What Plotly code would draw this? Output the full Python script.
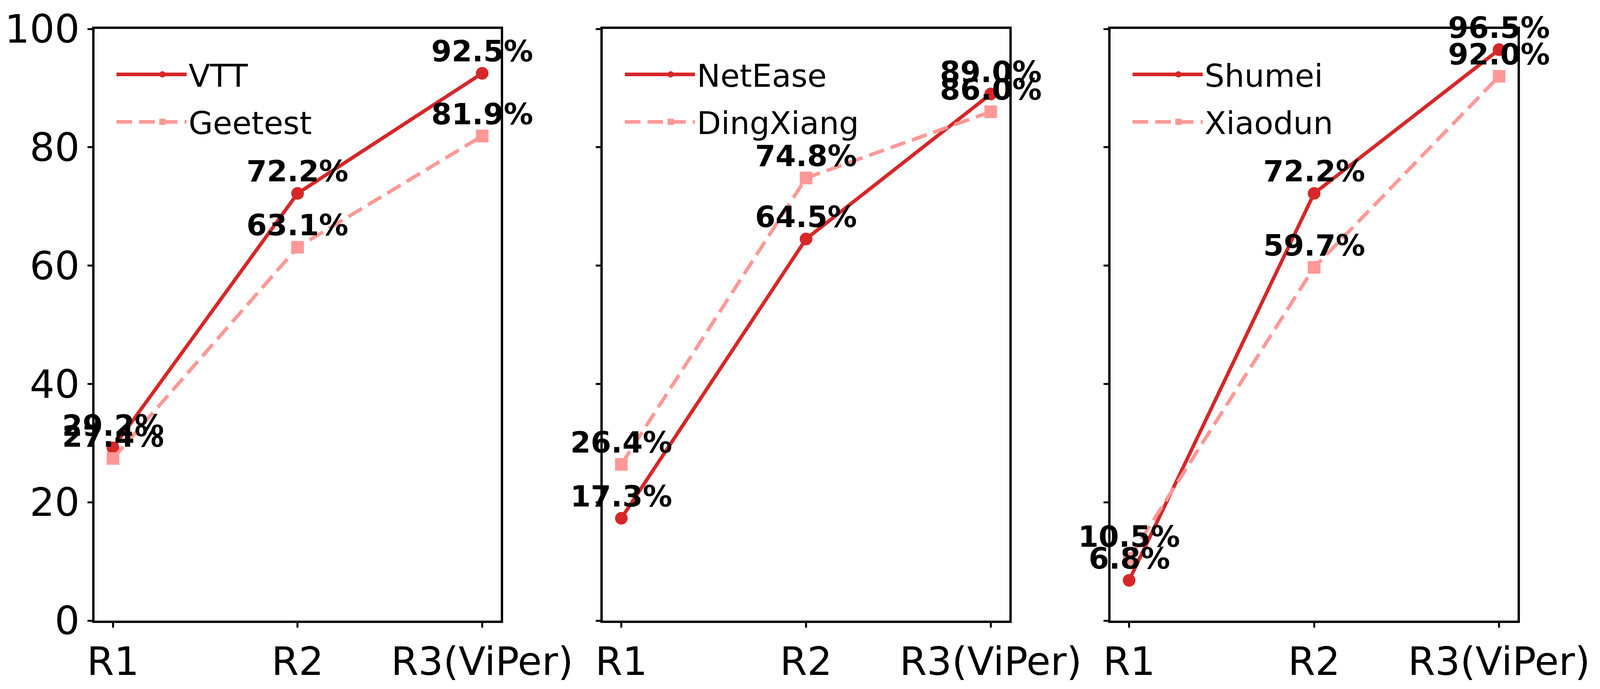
import plotly.graph_objects as go
from plotly.subplots import make_subplots

ROUNDS = ["R1", "R2", "R3(ViPer)"]

# one pair of services per panel
VTT = [29.2, 72.2, 92.5]
GEETEST = [27.4, 63.1, 81.9]
NETEASE = [17.3, 64.5, 89.0]
DINGXIANG = [26.4, 74.8, 86.0]
SHUMEI = [6.8, 72.2, 96.5]
XIAODUN = [10.5, 59.7, 92.0]

PANELS = [
    ("VTT", VTT, "Geetest", GEETEST),
    ("NetEase", NETEASE, "DingXiang", DINGXIANG),
    ("Shumei", SHUMEI, "Xiaodun", XIAODUN),
]

Y_TICKS = [0, 20, 40, 60, 80, 100]

RED = "#d62728"
PINK = "#ff9896"
FONT = "DejaVu Sans"

# sizes below are for a 5362 x 1763 page
W, H = 5362, 1763
ML, MR, MT, MB = 282, 237, 74, 170
PLOT_W = W - ML - MR
TICK_SIZE, LEGEND_SIZE, LABEL_SIZE = 115, 92, 86
MARKER_SIZE, LINE_W = 37, 10.5
ITEM_W = 235

# pixel edges of the three axes boxes
panel_px = [(282, 1664), (2012, 3395), (3740, 5125)]
domains = [[(a - ML) / PLOT_W, (b - ML) / PLOT_W] for a, b in panel_px]
domains[0][0] = 0.0
domains[-1][1] = 1.0

fig = make_subplots(rows=1, cols=3, shared_yaxes=True)

for i, (name_a, vals_a, name_b, vals_b) in enumerate(PANELS):
    col = i + 1
    legend_id = "legend" if i == 0 else "legend{}".format(col)
    fig.add_trace(go.Scatter(
        x=ROUNDS, y=vals_a, name=name_a, mode="lines+markers",
        line=dict(color=RED, width=LINE_W),
        marker=dict(symbol="circle", size=MARKER_SIZE, color=RED),
        legend=legend_id, legendgroup=name_a), row=1, col=col)
    fig.add_trace(go.Scatter(
        x=ROUNDS, y=vals_b, name=name_b, mode="lines+markers",
        line=dict(color=PINK, width=LINE_W, dash="40px,18px"),
        marker=dict(symbol="square", size=MARKER_SIZE, color=PINK),
        legend=legend_id, legendgroup=name_b), row=1, col=col)

    # value labels above each point
    for vals in (vals_a, vals_b):
        for x, v in zip(ROUNDS, vals):
            fig.add_annotation(
                x=x, y=v, xref="x{}".format("" if col == 1 else col),
                yref="y{}".format("" if col == 1 else col),
                text="{:.1f}%".format(v), showarrow=False,
                yanchor="bottom", xanchor="center", yshift=12,
                font=dict(family=FONT, size=LABEL_SIZE, color="black", weight="bold"))

    fig.update_xaxes(
        domain=domains[i], type="category", range=[-0.1, 2.1],
        showline=True, mirror=True, linecolor="black", linewidth=6,
        ticks="outside", ticklen=12, tickwidth=5, tickcolor="black",
        showgrid=False, zeroline=False,
        tickfont=dict(family=FONT, size=TICK_SIZE, color="black"),
        row=1, col=col)
    fig.update_yaxes(
        range=[0, 100], tickvals=Y_TICKS, showticklabels=(i == 0),
        showline=True, mirror=True, linecolor="black", linewidth=6,
        ticks="outside", ticklen=12, tickwidth=5, tickcolor="black",
        showgrid=False, zeroline=False,
        tickfont=dict(family=FONT, size=TICK_SIZE, color="black"),
        row=1, col=col)

legend_style = dict(
    xanchor="left", yanchor="top", y=0.962,
    bgcolor="rgba(0,0,0,0)", borderwidth=0,
    font=dict(family=FONT, size=LEGEND_SIZE, color="black"),
    itemwidth=ITEM_W, traceorder="grouped", tracegroupgap=14,
)
layout_legends = {}
for i, (a, b) in enumerate(panel_px):
    key = "legend" if i == 0 else "legend{}".format(i + 1)
    layout_legends[key] = dict(legend_style, x=(a - ML + 68) / PLOT_W)

fig.update_layout(
    width=W, height=H,
    margin=dict(l=ML, r=MR, t=MT, b=MB),
    paper_bgcolor="white", plot_bgcolor="white",
    showlegend=True,
    **layout_legends,
)

# the browser window may be narrower than W: refit the figure to it,
# scaling widths with the window and text by a milder factor
fit_js = """
var gd = document.getElementById('{plot_id}');
document.body.style.margin = '0';
document.body.style.overflow = 'hidden';
var vw = window.innerWidth, vh = window.innerHeight;
var s = vw / %(W)d, sv = vh / %(H)d;
var f = Math.min(Math.sqrt(s), sv);
var upd = {
  width: vw, height: vh,
  'margin.t': %(MT)d * sv, 'margin.b': %(MB)d * sv,
  'margin.l': %(ML)d * s + (f - s) * 225,
  'margin.r': %(MR)d * s + (f - s) * 270
};
['legend', 'legend2', 'legend3'].forEach(function (k) {
  upd[k + '.font.size'] = %(LEG)d * f;
  upd[k + '.itemwidth'] = Math.max(30, %(ITEM)d * s);
  upd[k + '.tracegroupgap'] = 14 * sv;
});
['xaxis', 'xaxis2', 'xaxis3', 'yaxis', 'yaxis2', 'yaxis3'].forEach(function (k) {
  upd[k + '.tickfont.size'] = %(TICK)d * f;
});
(gd.layout.annotations || []).forEach(function (a, i) {
  upd['annotations[' + i + '].font.size'] = %(LAB)d * f;
  upd['annotations[' + i + '].yshift'] = 12 * f;
});
Plotly.restyle(gd, {'marker.size': %(MS)f * f, 'line.width': %(LW)f * f});
Plotly.relayout(gd, upd);
""" % dict(W=W, H=H, MT=MT, MB=MB, ML=ML, MR=MR, LEG=LEGEND_SIZE, ITEM=ITEM_W,
           TICK=TICK_SIZE, LAB=LABEL_SIZE, MS=MARKER_SIZE, LW=LINE_W)

fig.write_html("out.html", post_script=fit_js, config={"displayModeBar": False})
